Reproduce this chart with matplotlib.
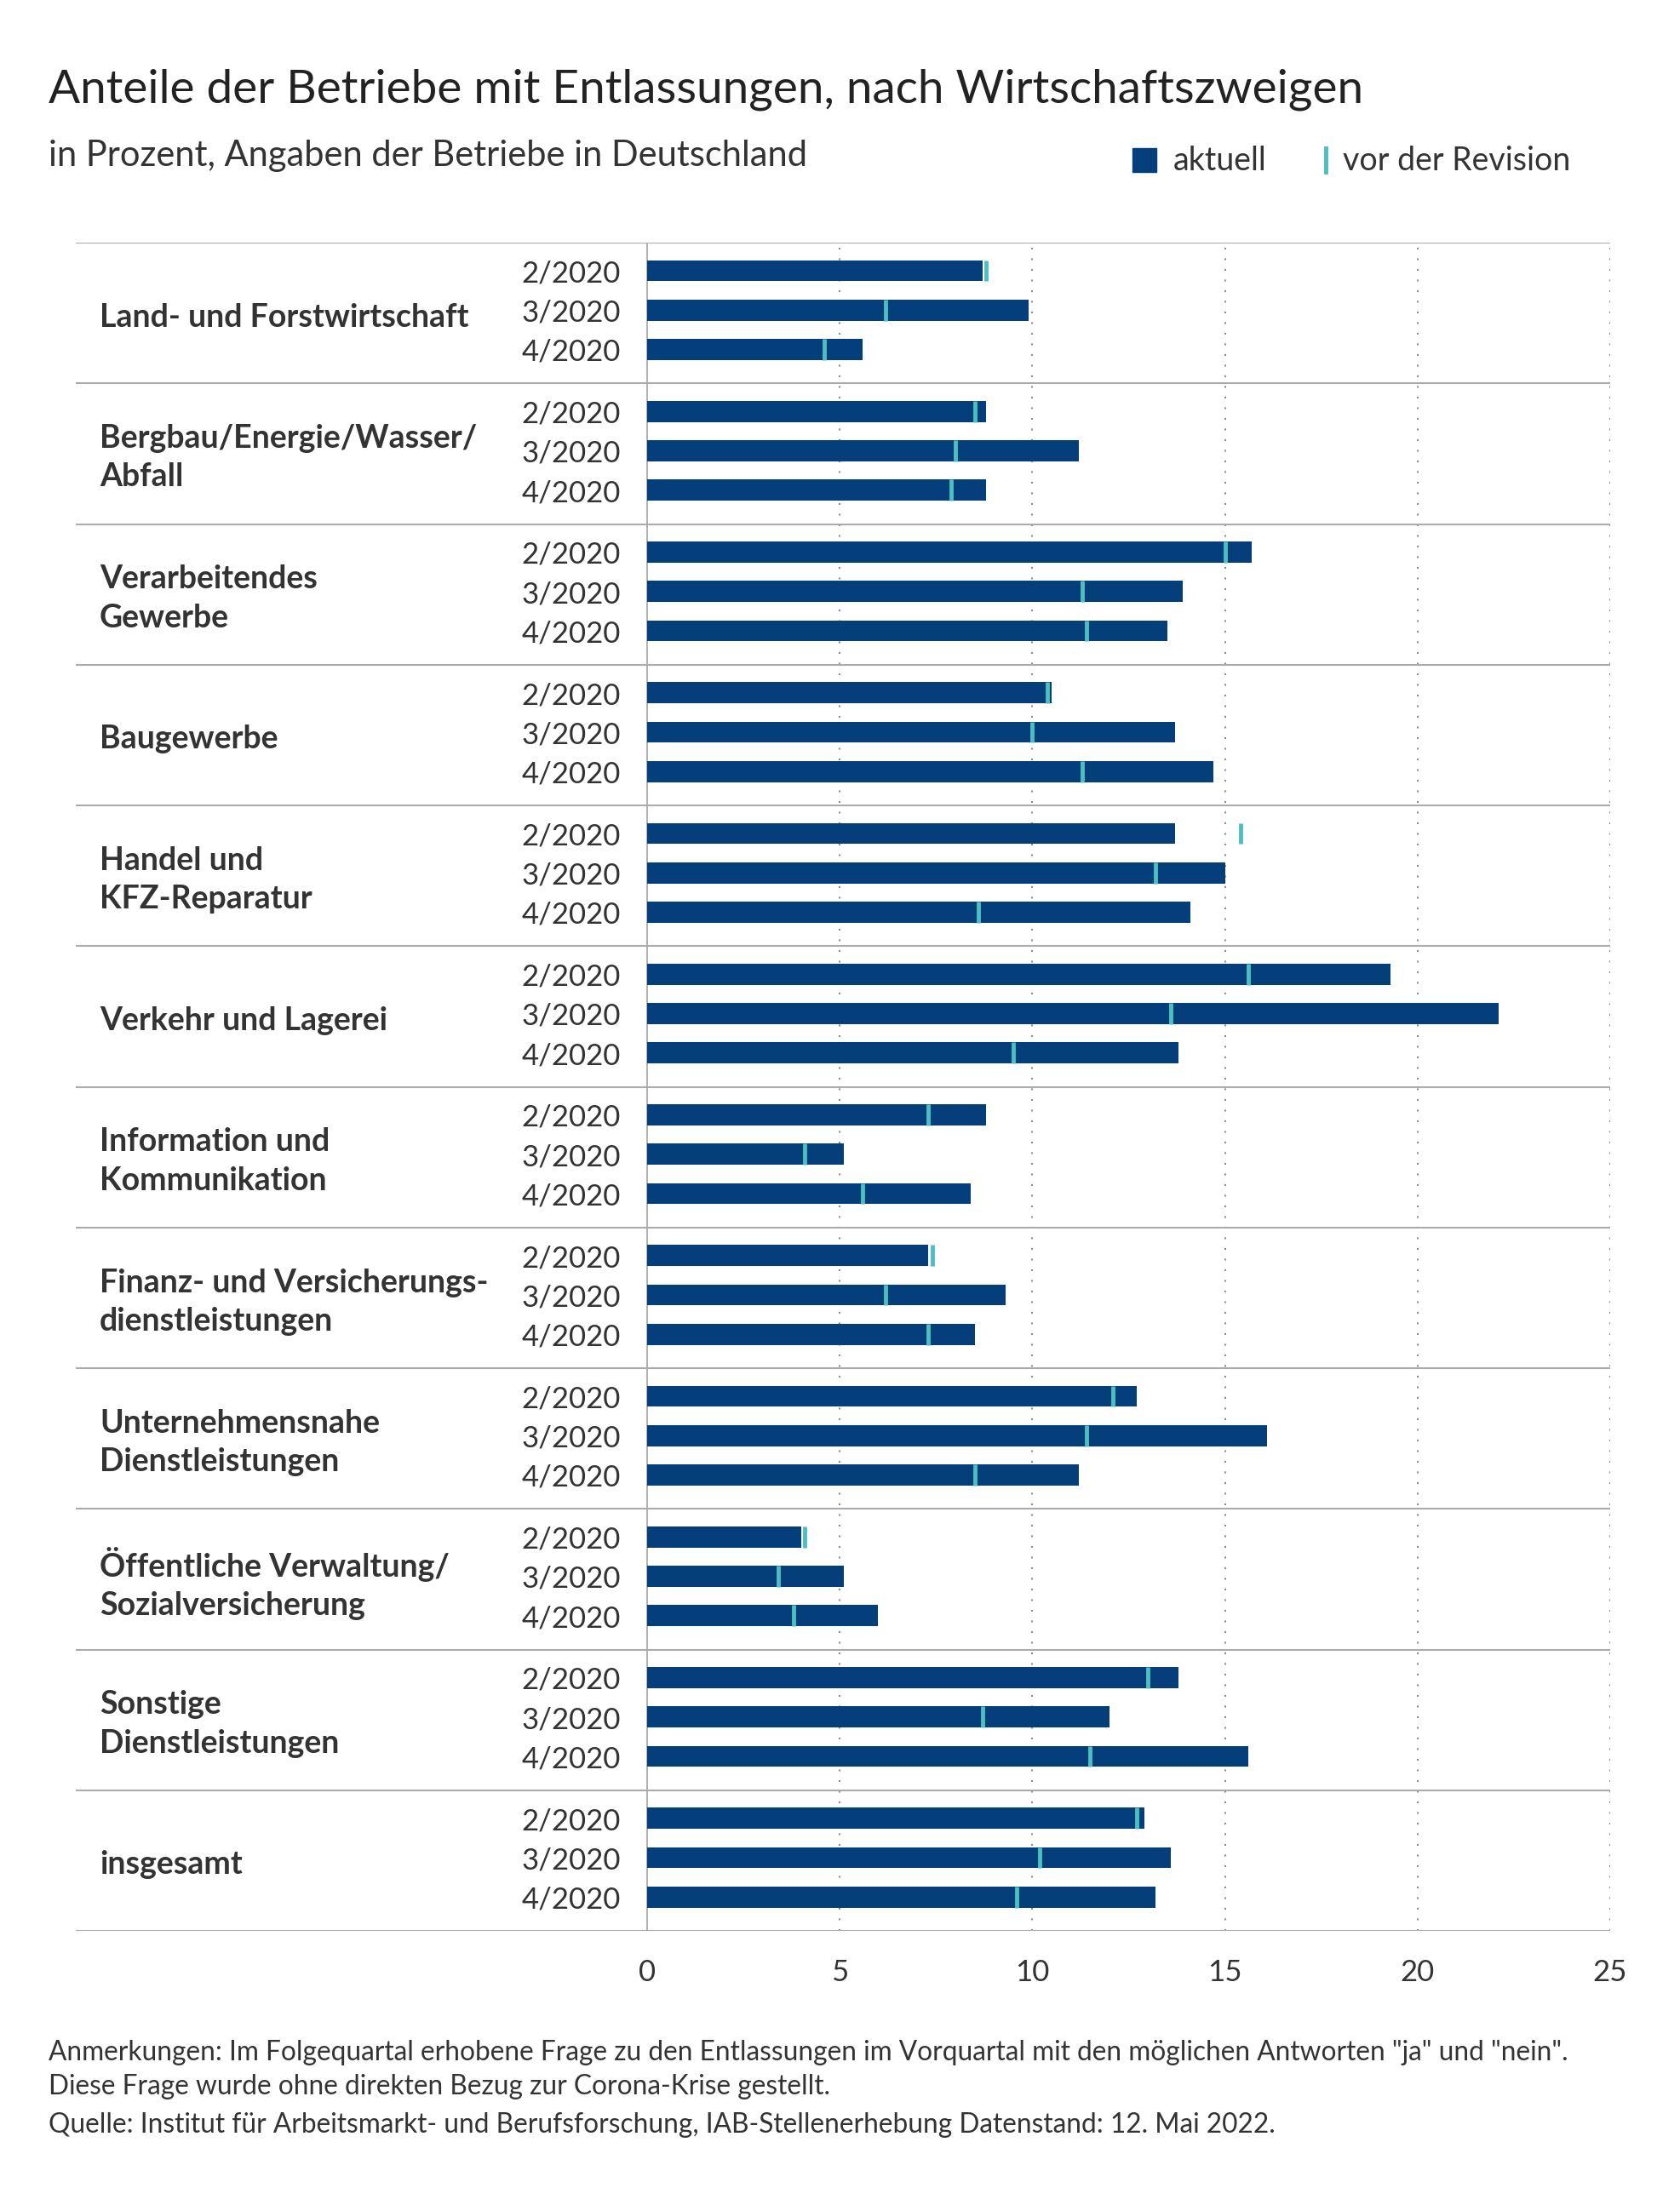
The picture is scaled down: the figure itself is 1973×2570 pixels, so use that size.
import matplotlib
matplotlib.use("Agg")
import matplotlib.pyplot as plt
from matplotlib.patches import Rectangle
from matplotlib.lines import Line2D

plt.rcParams['font.family'] = ['Lato', 'DejaVu Sans']

# data
groups = [
    "Land- und Forstwirtschaft",
    "Bergbau/Energie/Wasser/\nAbfall",
    "Verarbeitendes\nGewerbe",
    "Baugewerbe",
    "Handel und\nKFZ-Reparatur",
    "Verkehr und Lagerei",
    "Information und\nKommunikation",
    "Finanz- und Versicherungs-\ndienstleistungen",
    "Unternehmensnahe\nDienstleistungen",
    "Öffentliche Verwaltung/\nSozialversicherung",
    "Sonstige\nDienstleistungen",
    "insgesamt",
]
quarters = ["2/2020", "3/2020", "4/2020"]

aktuell = [
    [8.7, 9.9, 5.6],
    [8.8, 11.2, 8.8],
    [15.7, 13.9, 13.5],
    [10.5, 13.7, 14.7],
    [13.7, 15.0, 14.1],
    [19.3, 22.1, 13.8],
    [8.8, 5.1, 8.4],
    [7.3, 9.3, 8.5],
    [12.7, 16.1, 11.2],
    [4.0, 5.1, 6.0],
    [13.8, 12.0, 15.6],
    [12.9, 13.6, 13.2],
]
vor_revision = [
    [8.8, 6.2, 4.6],
    [8.5, 8.0, 7.9],
    [15.0, 11.3, 11.4],
    [10.4, 10.0, 11.3],
    [15.4, 13.2, 8.6],
    [15.6, 13.6, 9.5],
    [7.3, 4.1, 5.6],
    [7.4, 6.2, 7.3],
    [12.1, 11.4, 8.5],
    [4.1, 3.4, 3.8],
    [13.0, 8.7, 11.5],
    [12.7, 10.2, 9.6],
]
xticks = [0, 5, 10, 15, 20, 25]

navy = "#043e7b"
teal = "#4dbfc0"
grey = "#ababab"
txt = "#333333"

W, H = 1974, 2570
fig = plt.figure(figsize=(W / 100, H / 100), dpi=100)

def fx(px):
    return px / W

def fy(py):
    return 1 - py / H

# axes spans from the left end of the separator lines to the 25 grid line
x0_px, zero_px, x25_px = 89, 760, 1891
unit = (x25_px - zero_px) / 25
xmin = -(zero_px - x0_px) / unit
top_px, bot_px = 285, 2268
ax = fig.add_axes([fx(x0_px), fy(bot_px), fx(x25_px - x0_px), (bot_px - top_px) / H])
ax.set_xlim(xmin, 25)
ax.set_ylim(len(groups), 0)
for s in ax.spines.values():
    s.set_visible(False)

row_off = [0.20, 0.48, 0.76]
bar_h = 0.15

for x in xticks[1:]:
    ax.axvline(x, color="#8c8c8c", lw=1.5, ls=(0, (1, 5)), zorder=0)
ax.axvline(0, color=grey, lw=1.3, zorder=0)

for g in range(len(groups) + 1):
    ax.hlines(g, xmin, 25, color=grey, lw=1.5, zorder=1)

for g, name in enumerate(groups):
    ax.text(xmin + (117 - x0_px) / unit, g + 0.53, name, ha="left", va="center",
            fontsize=27, fontweight="bold", color=txt, linespacing=1.4)
    for i, q in enumerate(quarters):
        y = g + row_off[i]
        ax.barh(y, aktuell[g][i], height=bar_h, color=navy, zorder=2)
        ax.vlines(vor_revision[g][i], y - bar_h / 2, y + bar_h / 2,
                  color=teal, lw=3.5, zorder=3)
        ax.text(-(zero_px - 729) / unit, y + 0.02, q, ha="right", va="center",
                fontsize=25, color=txt)

ax.set_yticks([])
ax.set_xticks(xticks)
ax.set_xticklabels([str(t) for t in xticks], fontsize=25, color=txt)
ax.tick_params(axis="x", length=0, pad=24)

# title, subtitle
fig.text(fx(57), fy(120), "Anteile der Betriebe mit Entlassungen, nach Wirtschaftszweigen",
         fontsize=39.5, color="#222222", va="baseline")
fig.text(fx(57), fy(195), "in Prozent, Angaben der Betriebe in Deutschland",
         fontsize=30, color=txt, va="baseline")

# legend
fig.patches.append(Rectangle((fx(1330), fy(202)), fx(28), (202 - 174) / H,
                             transform=fig.transFigure, color=navy))
fig.text(fx(1378), fy(200), "aktuell", fontsize=27, color=txt, va="baseline")
fig.lines.append(Line2D([fx(1557), fx(1557)], [fy(202), fy(174)],
                        transform=fig.transFigure, color=teal, lw=3.5))
fig.text(fx(1577), fy(200), "vor der Revision", fontsize=27, color=txt, va="baseline")

# notes
fig.text(fx(57), fy(2420),
         "Anmerkungen: Im Folgequartal erhobene Frage zu den Entlassungen im Vorquartal mit den möglichen Antworten \"ja\" und \"nein\".",
         fontsize=22.8, color=txt, va="baseline")
fig.text(fx(57), fy(2460), "Diese Frage wurde ohne direkten Bezug zur Corona-Krise gestellt.",
         fontsize=22.8, color=txt, va="baseline")
fig.text(fx(57), fy(2505),
         "Quelle: Institut für Arbeitsmarkt- und Berufsforschung, IAB-Stellenerhebung Datenstand: 12. Mai 2022.",
         fontsize=22.8, color=txt, va="baseline")

fig.savefig("out.png", dpi=100, facecolor="white")
